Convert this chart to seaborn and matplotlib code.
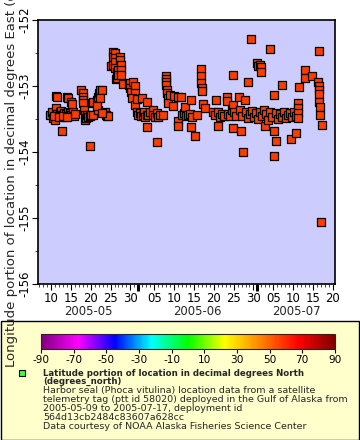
"""
Harbor seal telemetry track: longitude vs time, ERDDAP-style layout.
"""

import numpy as np
import pandas as pd
import matplotlib
matplotlib.use("Agg")
import matplotlib.pyplot as plt
import matplotlib.dates as mdates
from matplotlib.colors import LinearSegmentedColormap, Normalize
from matplotlib.colorbar import ColorbarBase
from matplotlib.patches import Rectangle
import seaborn as sns

# Data: day counted from 2005-05-01 (May 10 = 10), longitude in degrees East
day_of_may = [
    9.75, 10.25, 10.50, 11.01, 11.26, 11.51, 11.76, 12.27, 12.52, 12.77,
    13.27, 13.53, 13.78, 14.28, 14.53, 14.79, 15.04, 15.54, 15.79, 16.05,
    11.26, 11.51, 14.03, 14.28, 15.04, 15.29, 12.77, 10.75, 12.00, 13.00, 14.00,
    17.56, 18.06, 18.06, 18.06, 18.06, 18.31, 18.56, 18.56, 18.82, 19.07,
    19.32, 19.82, 20.08, 20.58, 19.82, 20.33, 20.58, 21.59, 21.84, 22.09,
    22.34, 22.85, 21.84, 22.34, 23.60, 23.85, 24.11, 24.36, 21.59, 22.85,
    25.11, 25.62, 25.62, 25.62, 26.12, 26.12, 26.12, 26.12, 26.37, 26.62,
    26.62, 26.88, 26.88, 27.38, 27.38, 27.63, 27.63, 27.63, 28.14,
    29.65, 29.90, 29.90, 30.15, 30.65, 31.16, 31.16, 30.40, 31.16, 31.66,
    31.66, 31.91, 32.42, 32.67, 32.92, 33.17, 33.43, 33.68, 34.18, 34.18,
    34.18, 34.43,
    34.94, 35.69, 35.69, 36.20, 36.70, 36.70, 36.95, 37.46, 38.21, 38.97,
    38.97, 38.97, 38.97, 39.22, 39.22, 39.47, 39.47, 39.97, 40.73, 40.98,
    41.99, 41.99, 41.99, 42.75, 43.00, 43.50, 43.75, 44.01, 44.51, 45.01,
    45.26, 45.26, 45.52, 46.27, 46.78,
    47.78, 47.78, 47.78, 48.04, 48.04, 48.29, 48.79, 51.56, 50.81, 51.31,
    52.07, 52.07, 52.57, 53.07, 53.58, 54.33, 54.33, 54.58, 55.09, 55.59,
    55.84, 55.84, 55.84, 56.10, 56.60,
    57.36, 57.61, 58.11, 57.86, 58.36, 58.87, 59.62, 60.38, 61.89, 62.14,
    62.64, 62.90, 62.90, 59.12, 59.62, 60.13, 60.63, 61.13, 61.64, 62.14,
    62.64, 63.15, 63.65, 63.90, 64.16, 64.66, 65.16, 65.16, 65.67, 66.17,
    66.17, 66.68, 66.17, 66.68,
    67.18, 67.68, 68.19, 68.19, 68.69, 69.19, 69.70, 70.20, 70.45, 70.71,
    71.21, 71.71, 71.71, 72.22, 72.22, 72.22, 72.22, 72.47, 73.98, 73.98,
    75.74, 77.25, 77.51, 77.51, 77.51, 77.51, 77.51, 77.76, 77.76, 78.26,
    78.01,
]
longitude = [
    -153.44, -153.39, -153.48, -153.52, -153.33, -153.42, -153.45, -153.39, -153.38, -153.44,
    -153.41, -153.47, -153.42, -153.39, -153.45, -153.41, -153.44, -153.39, -153.45, -153.42,
    -153.15, -153.17, -153.17, -153.18, -153.24, -153.27, -153.68, -153.45, -153.47, -153.45, -153.47,
    -153.06, -153.11, -153.17, -153.21, -153.26, -153.36, -153.44, -153.52, -153.48, -153.44,
    -153.47, -153.45, -153.44, -153.44, -153.91, -153.26, -153.24, -153.21, -153.17, -153.11,
    -153.06, -153.06, -153.36, -153.18, -153.39, -153.44, -153.45, -153.45, -153.30, -153.41,
    -152.70, -152.48, -152.56, -152.68, -152.50, -152.58, -152.64, -152.73, -152.89, -152.79,
    -152.88, -152.76, -152.83, -152.56, -152.61, -152.68, -152.76, -152.83, -152.97,
    -152.98, -152.95, -153.03, -153.09, -152.94, -153.00, -153.11, -153.18, -153.29, -153.20,
    -153.39, -153.44, -153.41, -153.45, -153.18, -153.44, -153.39, -153.47, -153.24, -153.44,
    -153.62, -153.44,
    -153.39, -153.36, -153.44, -153.47, -153.41, -153.85, -153.47, -153.44, -153.44, -152.85,
    -152.89, -152.94, -152.98, -153.06, -153.11, -153.18, -153.26, -153.14, -153.30, -153.15,
    -153.17, -153.53, -153.61, -153.17, -153.44, -153.41, -153.32, -153.45, -153.44, -153.42,
    -153.21, -153.62, -153.47, -153.76, -153.44,
    -152.74, -152.85, -152.95, -153.03, -153.08, -153.27, -153.33, -153.21, -153.39, -153.44,
    -153.39, -153.61, -153.47, -153.42, -153.45, -153.17, -153.23, -153.42, -153.45, -153.36,
    -152.83, -153.29, -153.64, -153.39, -153.45,
    -153.17, -153.36, -153.45, -153.68, -154.00, -153.21, -152.94, -152.29, -152.65, -152.70,
    -152.68, -152.71, -152.79, -153.39, -153.48, -153.42, -153.38, -153.47, -153.41, -153.50,
    -153.39, -153.45, -153.36, -153.61, -153.42, -153.52, -152.44, -153.39, -153.47, -153.14,
    -153.68, -153.83, -154.06, -153.41,
    -153.50, -153.42, -152.98, -153.47, -153.39, -153.48, -153.44, -153.41, -153.80, -153.47,
    -153.39, -153.71, -153.45, -153.26, -153.33, -153.41, -153.48, -153.02, -152.76, -152.88,
    -152.85, -152.94, -152.47, -153.00, -153.06, -153.12, -153.24, -153.32, -153.44, -153.59,
    -155.06,
]

y_ticks = [-156, -155, -154, -153, -152]
cbar_ticks = [-90, -70, -50, -30, -10, 10, 30, 50, 70, 90]
rainbow = ["#800080", "#ff00ff", "#0000ff", "#00ffff", "#00ff00",
           "#ffff00", "#ff8000", "#ff0000", "#800000"]

Y_LABEL = "Longitude portion of location in decimal degrees East (degrees_east)"
LEGEND_TITLE = ["Latitude portion of location in decimal degrees North",
                "(degrees_north)"]
LEGEND_LINES = [
    "Harbor seal (Phoca vitulina) location data from a satellite",
    "telemetry tag (ptt id 58020) deployed in the Gulf of Alaska from",
    "2005-05-09 to 2005-07-17, deployment id",
    "564d13cb2484c83607a628cc",
    "Data courtesy of NOAA Alaska Fisheries Science Center",
]

sns.set_theme(style="ticks")
plt.rcParams.update({
    "font.family": ["DejaVu Sans"],
    "axes.unicode_minus": False,
})

W, H = 360, 440
base = pd.Timestamp("2005-04-30")
df = pd.DataFrame({
    "time": base + pd.to_timedelta(day_of_may, unit="D"),
    "lon": longitude,
})

fig = plt.figure(figsize=(W / 100, H / 100), dpi=100)
fig.patch.set_facecolor("white")


def px_box(x0, y0, x1, y1):
    """Pixel box (top-left origin) -> figure fraction rect."""
    return [x0 / W, (H - y1) / H, (x1 - x0) / W, (y1 - y0) / H]


# legend panel behind everything in the lower part
fig.patches.append(Rectangle((0.5 / W, 0.5 / H), (W - 1.5) / W, (H - 321) / H,
                             transform=fig.transFigure, facecolor="#ffffcc",
                             edgecolor="black", linewidth=1.0, zorder=-5))

ax = fig.add_axes(px_box(38, 20, 335, 284))
ax.set_facecolor("#ccccff")
sns.scatterplot(data=df, x="time", y="lon", marker="s", s=26,
                color="#ff3c00", edgecolor="black", linewidth=0.9, ax=ax,
                legend=False, zorder=3)

x_left = base + pd.Timedelta(days=6.73)
x_right = base + pd.Timedelta(days=81.54)
ax.set_xlim(x_left, x_right)
ax.set_ylim(-156, -152)

ax.xaxis.set_major_locator(mdates.DayLocator(bymonthday=[5, 10, 15, 20, 25, 30]))
ax.xaxis.set_major_formatter(mdates.DateFormatter("%d"))
ax.xaxis.set_minor_locator(mdates.DayLocator())
ax.set_yticks(y_ticks)
ax.set_yticklabels([str(v) for v in y_ticks], rotation=90, va="center")
ax.set_yticks(np.arange(-156, -151.9, 0.5), minor=True)
ax.tick_params(axis="x", which="major", length=4, width=0.8, pad=2,
               labelsize=8.4, colors="black")
ax.tick_params(axis="x", which="minor", length=2, width=0.6)
ax.tick_params(axis="y", which="major", length=4, width=0.8, pad=1,
               labelsize=8.4, colors="black")
ax.tick_params(axis="y", which="minor", length=2, width=0.6)
for sp in ax.spines.values():
    sp.set_color("black")
    sp.set_linewidth(1.2)
ax.set_xlabel("")
ax.set_ylabel("")
ax.grid(False)

# thick month-boundary ticks and month labels under the day numbers
months = pd.date_range("2005-05-01", "2005-08-01", freq="MS")
trans = ax.get_xaxis_transform()
for start, end in zip(months[:-1], months[1:]):
    if x_left < start < x_right:
        ax.plot([start, start], [0, -0.025], transform=trans, color="black",
                linewidth=2.2, clip_on=False, solid_capstyle="butt")
    lo, hi = max(start, x_left), min(end, x_right)
    mid = lo + (hi - lo) / 2
    ax.text(mid, -0.103, start.strftime("%Y-%m"), transform=trans,
            ha="center", va="center", fontsize=8.4)

fig.text(12 / W, (H - 367) / H, Y_LABEL, rotation=90, ha="center",
         va="bottom", fontsize=9.5)

# colour bar
cax = fig.add_axes(px_box(41, 334, 335, 349))
cmap = LinearSegmentedColormap.from_list("erddap_rainbow", rainbow)
cb = ColorbarBase(cax, cmap=cmap, norm=Normalize(-90, 90),
                  orientation="horizontal", ticks=cbar_ticks)
cb.outline.set_linewidth(0.8)
cb.ax.tick_params(length=3, width=0.8, pad=1, labelsize=7.6, colors="black")
cb.ax.set_xticklabels([str(v) for v in cbar_ticks])

# legend entry
fig.add_artist(Rectangle(((22 - 3) / W, (H - 373 - 3) / H), 6 / W, 6 / H,
                         transform=fig.transFigure, facecolor="#40ff40",
                         edgecolor="black", linewidth=0.8))
ty = 373
for line in LEGEND_TITLE:
    fig.text(43 / W, (H - ty) / H, line, ha="left", va="center",
             fontsize=6.2, fontweight="bold")
    ty += 8.5
ty = 390.5
for line in LEGEND_LINES:
    fig.text(43 / W, (H - ty) / H, line, ha="left", va="center", fontsize=6.8)
    ty += 9.1

fig.savefig("out.png", dpi=100)
